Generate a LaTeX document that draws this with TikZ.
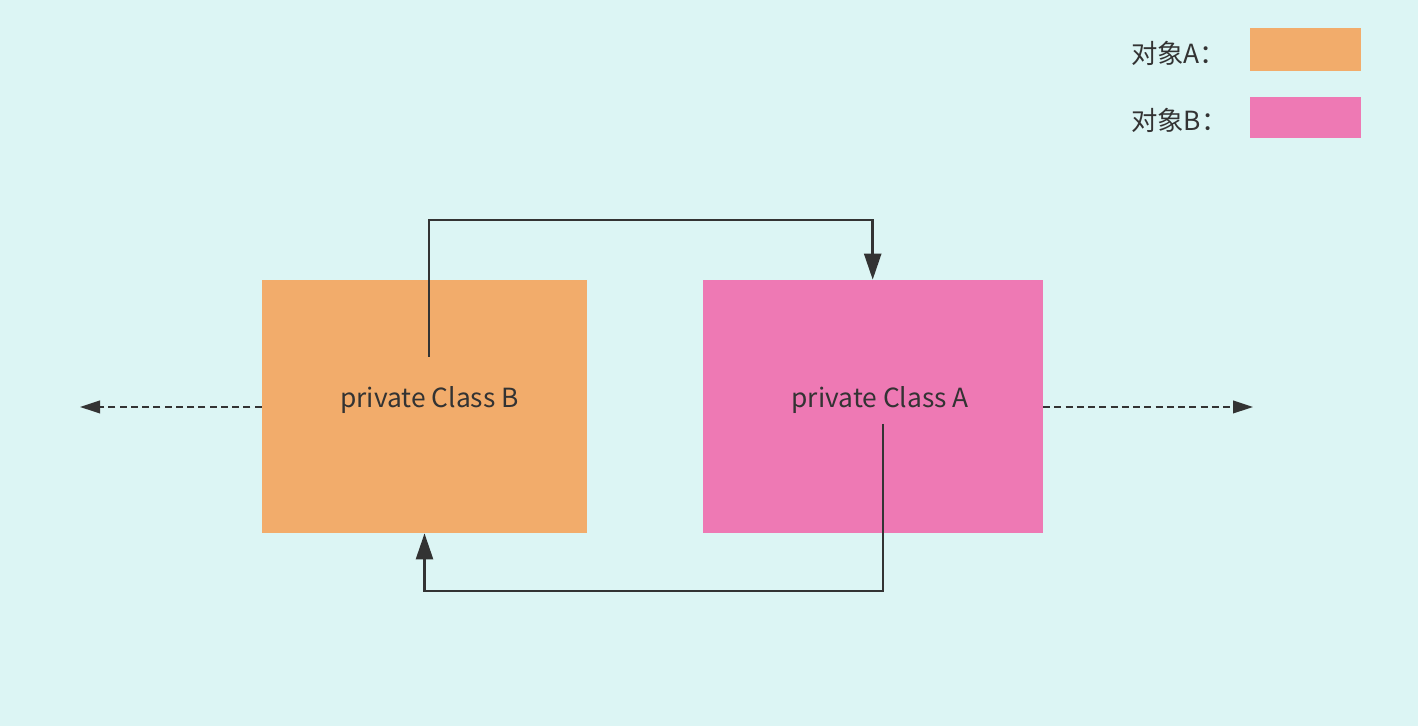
\documentclass[tikz,border=0pt]{standalone}
\usepackage{xcolor}
\usepackage{fontspec}
\setmainfont{Noto Sans CJK SC}
\usepackage{tikz}
\usetikzlibrary{positioning,arrows.meta}

\definecolor{bgcyan}{HTML}{DCF5F4}
\definecolor{objorange}{HTML}{F2AC6B}
\definecolor{objpink}{HTML}{EE79B4}
\definecolor{inkgray}{HTML}{333333}

\begin{document}
\begin{tikzpicture}[node distance=2cm, auto,
    objbox/.style={rectangle, minimum height=5.06cm, inner sep=0pt, text=inkgray, font=\fontsize{15}{18}\selectfont},
    legendbox/.style={rectangle, minimum width=2.22cm, inner sep=0pt},
    legendtext/.style={anchor=west, text=inkgray, font=\fontsize{15}{18}\selectfont},
    callarrow/.style={draw=inkgray, line width=1.4pt, -{Triangle[length=0.52cm, width=0.34cm]}},
    outarrow/.style={draw=inkgray, line width=1.3pt, dash pattern=on 4pt off 2.4pt, -{Triangle[length=0.4cm, width=0.25cm]}}]
    % Background
    \fill[bgcyan] (0,0) rectangle (28.36,14.52);
    \useasboundingbox (0,0) rectangle (28.36,14.52);

    % Legend
    \node[legendbox, fill=objorange, minimum height=0.86cm] (legendA) at (26.11,13.53) {};
    \node[legendbox, fill=objpink, minimum height=0.82cm, below=0.5cm of legendA] (legendB) {};
    \node[legendtext] (legendAtext) at (22.5,13.45) {对象A：};
    \node[legendtext] (legendBtext) at (22.5,12.12) {对象B：};

    % Objects
    \node[objbox, fill=objorange, minimum width=6.5cm] (objB) at (8.49,6.39) {\hspace*{0.2cm}\raisebox{0.36cm}{private Class B}};
    \node[objbox, fill=objpink, minimum width=6.8cm, right=2.3cm of objB] (objA) {\hspace*{0.3cm}\raisebox{0.36cm}{private Class A}};

    % Arrows
    \coordinate (fromB) at (8.58,7.38);
    \coordinate (fromA) at (17.66,6.04);
    \coordinate (outLeft) at (1.6,6.38);
    \coordinate (outRight) at (25.06,6.38);
    \draw[callarrow] (fromB) -- (8.58,10.12) -| (objA.north);
    \draw[callarrow] (fromA) -- (17.66,2.7) -| (objB.south);
    \draw[outarrow] (objB.west |- outLeft) -- (outLeft);
    \draw[outarrow] (objA.east |- outRight) -- (outRight);
\end{tikzpicture}
\end{document}
